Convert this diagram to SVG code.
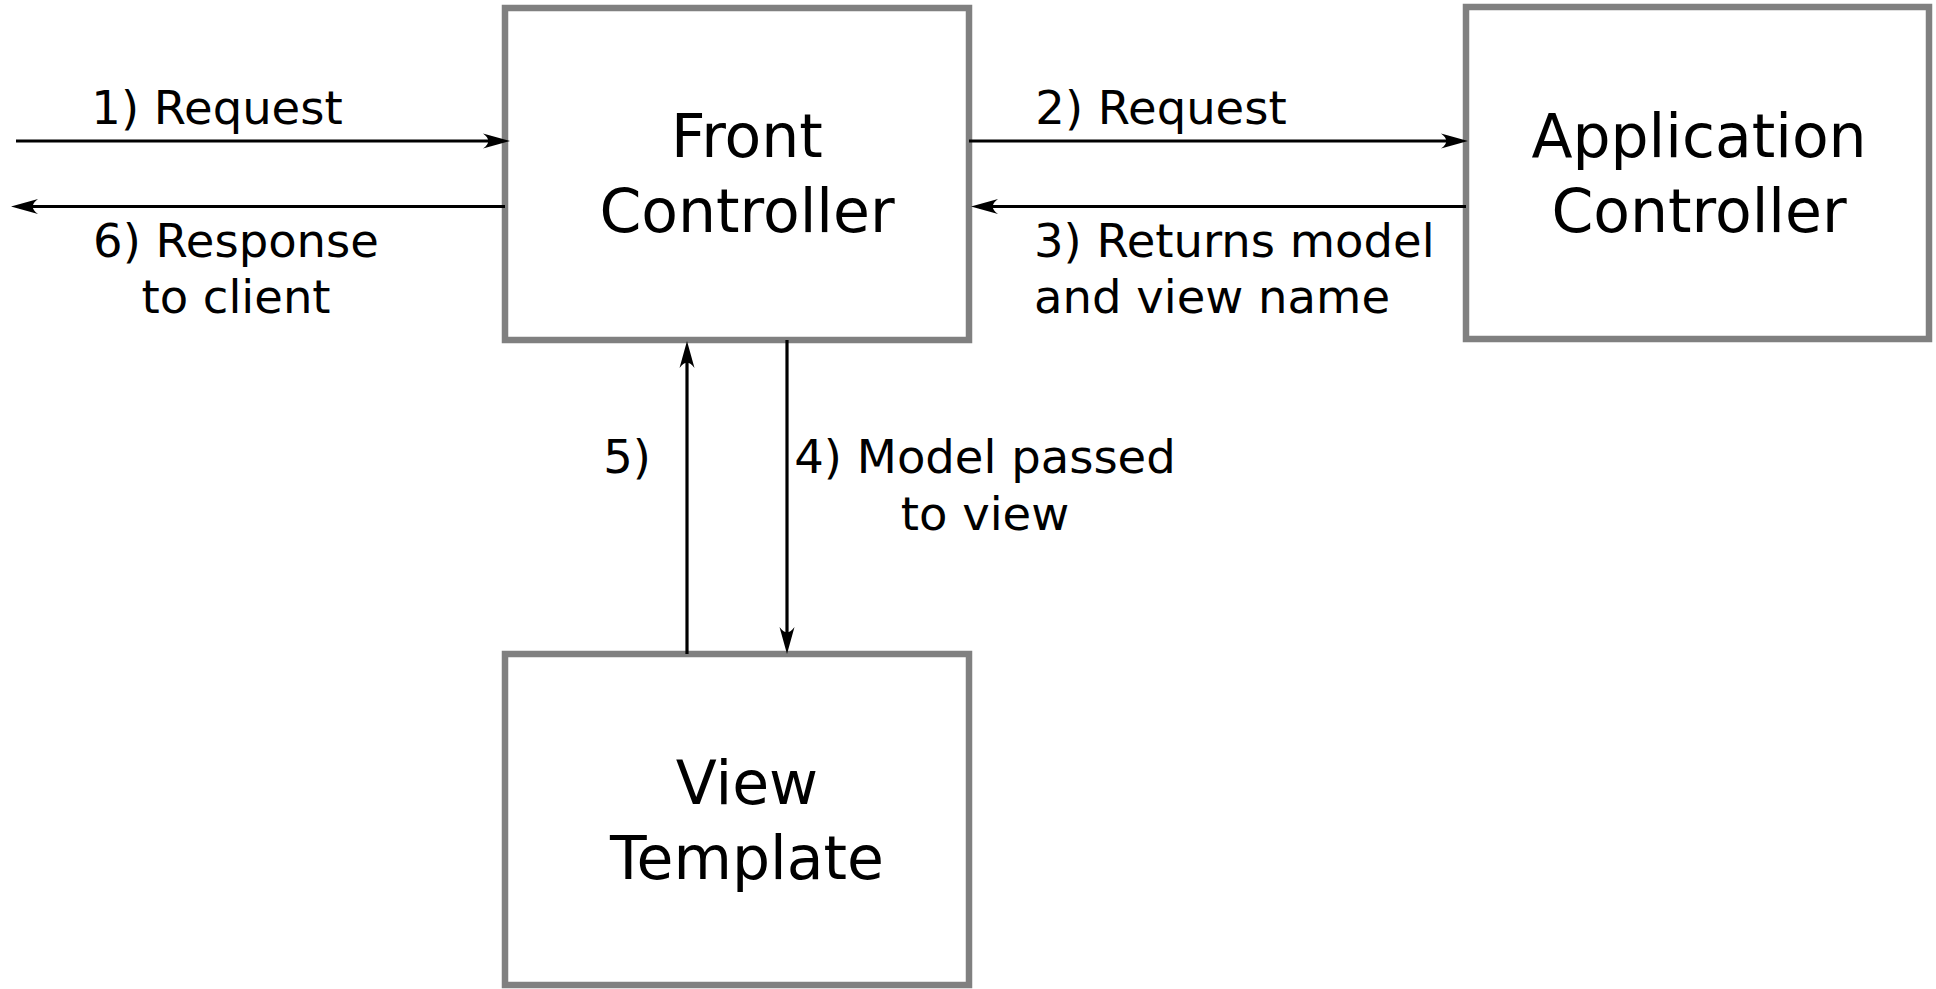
<svg xmlns="http://www.w3.org/2000/svg" width="1936" height="989" viewBox="0 0 1936 989">
  <style>
    .box { fill: #ffffff; stroke: #808080; stroke-width: 6.5; }
    .node-text { font-family: "DejaVu Sans", "Liberation Sans", sans-serif; font-size: 60px; fill: #000000; text-anchor: middle; }
    .label { font-family: "DejaVu Sans", "Liberation Sans", sans-serif; font-size: 46.5px; fill: #000000; }
    .mid { text-anchor: middle; }
    .conn { stroke: #000000; stroke-width: 3.2; fill: none; marker-end: url(#arrow); }
  </style>
  <defs>
    <marker id="arrow" markerUnits="userSpaceOnUse" markerWidth="40" markerHeight="40" refX="0" refY="0" orient="auto" overflow="visible" viewBox="-20 -20 40 40">
      <path d="M10,0 L-17,-7.5 C-10,-2.5 -10,2.5 -17,7.5 Z" fill="#000000"/>
    </marker>
  </defs>
  <rect width="1936" height="989" fill="#ffffff"/>

  <g id="front-controller">
    <rect class="box" x="505" y="8" width="464" height="332"/>
    <text class="node-text" x="747" y="157">Front</text>
    <text class="node-text" x="747" y="232">Controller</text>
  </g>

  <g id="application-controller">
    <rect class="box" x="1466" y="7" width="463" height="332"/>
    <text class="node-text" x="1699" y="157">Application</text>
    <text class="node-text" x="1699" y="232">Controller</text>
  </g>

  <g id="view-template">
    <rect class="box" x="505" y="654" width="464" height="331"/>
    <text class="node-text" x="747" y="804">View</text>
    <text class="node-text" x="747" y="879">Template</text>
  </g>

  <g id="connectors">
    <line class="conn" x1="16" y1="141" x2="500" y2="141"/>
    <line class="conn" x1="505" y1="206.5" x2="21" y2="206.5"/>
    <line class="conn" x1="969" y1="141" x2="1458" y2="141"/>
    <line class="conn" x1="1466" y1="206.5" x2="981" y2="206.5"/>
    <line class="conn" x1="687" y1="654" x2="687" y2="351"/>
    <line class="conn" x1="787" y1="340" x2="787" y2="644"/>
  </g>

  <g id="labels">
    <text class="label mid" x="217" y="124">1) Request</text>
    <text class="label mid" x="236" y="257">6) Response</text>
    <text class="label mid" x="236" y="313">to client</text>
    <text class="label mid" x="1161" y="124">2) Request</text>
    <text class="label" x="1034" y="257">3) Returns model</text>
    <text class="label" x="1034" y="313">and view name</text>
    <text class="label mid" x="627" y="473">5)</text>
    <text class="label mid" x="985" y="473">4) Model passed</text>
    <text class="label mid" x="985" y="530">to view</text>
  </g>
</svg>
